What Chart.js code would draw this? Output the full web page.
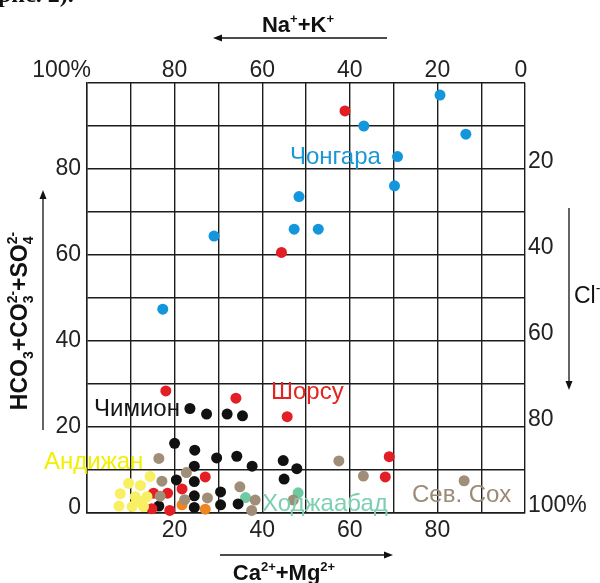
<!DOCTYPE html>
<html>
<head>
<meta charset="utf-8">
<script src="https://cdn.jsdelivr.net/npm/chart.js@4.4.1/dist/chart.umd.min.js"></script>
<style>
  html, body { margin: 0; padding: 0; background: #fff; }
  #wrap { width: 600px; height: 583px; }
</style>
</head>
<body>
<div id="wrap"><canvas id="piper"></canvas></div>
<script>
// Ca2+ + Mg2+ (x, %) and HCO3+CO3+SO4 (y, %) per water group
const chongaraX = [80.6, 63.2, 86.5, 70.9, 70.2, 48.4, 47.3, 52.8, 29.0, 17.3];
const chongaraY = [97.2, 90.0, 88.1, 82.9, 76.1, 73.6, 66.0, 66.0, 64.4, 47.4];

const shorsuX = [58.9, 44.4, 18.0, 34.0, 45.7, 69.0, 68.1, 27.0, 21.7, 18.4, 15.2, 14.8, 18.9];
const shorsuY = [93.5, 60.6, 28.4, 26.7, 22.4, 13.1, 8.4, 8.4, 5.6, 4.6, 4.6, 1.0, 0.6];

const chimionX = [23.5, 27.3, 32.0, 35.5, 20.0, 24.6, 29.6, 34.2, 37.7, 24.5, 44.8, 47.9, 45.0, 20.4, 24.5, 30.5, 24.5, 34.5, 30.5, 24.5, 16.4];
const chimionY = [24.3, 23.0, 23.0, 22.6, 16.2, 14.6, 12.8, 13.2, 10.9, 10.9, 12.2, 10.3, 7.9, 7.7, 7.3, 4.9, 4.0, 2.1, 1.9, 1.3, 1.6];

const sokhX = [16.4, 57.5, 63.1, 86.1, 17.1, 22.7, 34.9, 16.7, 27.5, 22.3, 38.4, 47.1, 37.6];
const sokhY = [12.7, 12.1, 8.6, 7.5, 7.4, 9.4, 6.1, 3.9, 3.5, 3.1, 3.0, 3.0, 0.6];

const khodjaX = [36.2, 48.2];
const khodjaY = [3.6, 4.7];

const orangeX = [21.7, 27.0];
const orangeY = [1.9, 0.9];

const andijanX = [14.4, 9.5, 12.2, 7.6, 11.0, 13.7, 7.3, 10.3, 12.9, 12.2];
const andijanY = [8.5, 6.9, 6.4, 4.5, 3.8, 3.8, 1.6, 1.5, 1.5, 2.6];

// tick labels
const leftTicks = [0, 20, 40, 60, 80];
const bottomTicks = [20, 40, 60, 80];
const topTicks = [100, 80, 60, 40, 20, 0];   // Na+ + K+
const rightTicks = [20, 40, 60, 80, 100];    // Cl-

function pts(xs, ys) {
  return xs.map((x, i) => ({ x: x, y: ys[i] }));
}

function dots(label, xs, ys, color) {
  return {
    label: label,
    data: pts(xs, ys),
    backgroundColor: color,
    borderWidth: 0,
    pointRadius: 5.5,
    pointHoverRadius: 5.5,
    clip: false
  };
}

// text with super/subscripts; parts: [text, kind] kind 0 normal, 1 sup, -1 sub, 2 stacked [sub, sup]
function richWidth(ctx, parts, big, small, weight) {
  let w = 0;
  parts.forEach(p => {
    if (p[1] === 0) { ctx.font = weight + " " + big + "px 'Liberation Sans', Arial"; w += ctx.measureText(p[0]).width; }
    else if (p[1] === 2) {
      ctx.font = weight + " " + small + "px 'Liberation Sans', Arial";
      w += Math.max(ctx.measureText(p[0][0]).width, ctx.measureText(p[0][1]).width);
    } else { ctx.font = weight + " " + small + "px 'Liberation Sans', Arial"; w += ctx.measureText(p[0]).width; }
  });
  return w;
}

function drawRich(ctx, parts, x, y, big, small, weight) {
  // x: left, y: baseline
  let cx = x;
  parts.forEach(p => {
    if (p[1] === 0) {
      ctx.font = weight + " " + big + "px 'Liberation Sans', Arial";
      ctx.fillText(p[0], cx, y);
      cx += ctx.measureText(p[0]).width;
    } else if (p[1] === 2) {
      ctx.font = weight + " " + small + "px 'Liberation Sans', Arial";
      ctx.fillText(p[0][0], cx, y + big * 0.28);
      ctx.fillText(p[0][1], cx, y - big * 0.42);
      cx += Math.max(ctx.measureText(p[0][0]).width, ctx.measureText(p[0][1]).width);
    } else {
      ctx.font = weight + " " + small + "px 'Liberation Sans', Arial";
      ctx.fillText(p[0], cx, p[1] > 0 ? y - big * 0.42 : y + big * 0.28);
      cx += ctx.measureText(p[0]).width;
    }
  });
}

function arrow(ctx, x1, y1, x2, y2) {
  const a = Math.atan2(y2 - y1, x2 - x1);
  ctx.strokeStyle = "#111";
  ctx.fillStyle = "#111";
  ctx.lineWidth = 1.3;
  ctx.beginPath();
  ctx.moveTo(x1, y1);
  ctx.lineTo(x2 - 6 * Math.cos(a), y2 - 6 * Math.sin(a));
  ctx.stroke();
  ctx.beginPath();
  ctx.moveTo(x2, y2);
  ctx.lineTo(x2 - 9 * Math.cos(a) + 3.5 * Math.sin(a), y2 - 9 * Math.sin(a) - 3.5 * Math.cos(a));
  ctx.lineTo(x2 - 9 * Math.cos(a) - 3.5 * Math.sin(a), y2 - 9 * Math.sin(a) + 3.5 * Math.cos(a));
  ctx.closePath();
  ctx.fill();
}

const decor = {
  id: "decor",
  afterDraw(chart) {
    const ctx = chart.ctx;
    const xs = chart.scales.x, ys = chart.scales.y;
    ctx.save();

    // cut caption line from the page above
    ctx.fillStyle = "#111";
    ctx.font = "bold 24px 'Liberation Serif', 'Times New Roman'";
    ctx.textAlign = "left";
    ctx.textBaseline = "alphabetic";
    ctx.fillText("рис. 2).", -2, 2);

    // tick labels
    ctx.fillStyle = "#222";
    ctx.font = "23px 'Liberation Sans', Arial";
    ctx.textBaseline = "middle";

    ctx.textAlign = "right";
    leftTicks.forEach(v => {
      ctx.fillText(String(v), 81, ys.getPixelForValue(v) - (v === 0 ? 5 : 0));
    });

    ctx.textAlign = "center";
    bottomTicks.forEach(v => {
      ctx.fillText(String(v), xs.getPixelForValue(v), 531);
    });

    topTicks.forEach(v => {
      const px = xs.getPixelForValue(100 - v);
      if (v === 100) { ctx.textAlign = "right"; ctx.fillText("100%", px + 4, 71); }
      else { ctx.textAlign = "center"; ctx.fillText(String(v), px - (v === 0 ? 4 : 0), 71); }
    });

    ctx.textAlign = "left";
    rightTicks.forEach(v => {
      ctx.fillText(v === 100 ? "100%" : String(v), xs.right + 3, ys.getPixelForValue(100 - v) - 7);
    });

    // axis titles
    ctx.fillStyle = "#111";
    ctx.textBaseline = "alphabetic";
    const na = [["Na", 0], ["+", 1], ["+K", 0], ["+", 1]];
    let w = richWidth(ctx, na, 22, 13, "bold");
    drawRich(ctx, na, 298 - w / 2, 32, 22, 13, "bold");
    arrow(ctx, 387, 38, 213, 38);

    const ca = [["Ca", 0], ["2+", 1], ["+Mg", 0], ["2+", 1]];
    w = richWidth(ctx, ca, 22, 13, "bold");
    drawRich(ctx, ca, 284 - w / 2, 580, 22, 13, "bold");
    arrow(ctx, 220, 555, 393, 555);

    const an = [["HCO", 0], ["3", -1], ["+CO", 0], [["3", "2-"], 2], ["+SO", 0], [["4", "2-"], 2]];
    w = richWidth(ctx, an, 23, 14, "bold");
    ctx.save();
    ctx.translate(27, 321);
    ctx.rotate(-Math.PI / 2);
    drawRich(ctx, an, -w / 2, 0, 23, 14, "bold");
    ctx.restore();
    arrow(ctx, 43, 430, 43, 190);

    const cl = [["Cl", 0], ["-", 1]];
    drawRich(ctx, cl, 574, 303, 23, 14, "normal");
    arrow(ctx, 569, 208, 569, 390);

    // group labels
    ctx.font = "24px 'Liberation Sans', Arial";
    ctx.textAlign = "left";
    const labels = [
      ["Чонгара", 290, 164, "#1a98d6"],
      ["Шорсу", 271, 399, "#e3231f"],
      ["Чимион", 94, 416, "#141414"],
      ["Андижан", 44, 469, "#f2f000"],
      ["Ходжаабад", 262, 511, "#7ccfb0"],
      ["Сев. Сох", 412, 502, "#9b8b76"]
    ];
    labels.forEach(l => {
      ctx.fillStyle = l[3];
      ctx.fillText(l[0], l[1], l[2]);
    });
    ctx.restore();
  }
};

const gridOpts = {
  color: "#1c1c1c",
  lineWidth: 1.4,
  drawTicks: false
};

new Chart(document.getElementById("piper"), {
  type: "scatter",
  data: {
    datasets: [
      dots("Андижан", andijanX, andijanY, "#f8ef62"),
      dots("Сев. Сох", sokhX, sokhY, "#a08e78"),
      dots("Шорсу", shorsuX, shorsuY, "#e31e24"),
      dots("Чимион", chimionX, chimionY, "#111111"),
      dots("orange", orangeX, orangeY, "#ef8420"),
      dots("Ходжаабад", khodjaX, khodjaY, "#6fcaa3"),
      dots("Чонгара", chongaraX, chongaraY, "#1496dc")
    ]
  },
  options: {
    responsive: true,
    maintainAspectRatio: false,
    animation: false,
    layout: { padding: { left: 87, right: 75, top: 83, bottom: 70 } },
    plugins: {
      legend: { display: false },
      tooltip: { enabled: false }
    },
    scales: {
      x: {
        type: "linear", min: 0, max: 100,
        ticks: { display: false, stepSize: 10 },
        grid: gridOpts,
        border: { display: true, color: "#1c1c1c", width: 1.4 }
      },
      y: {
        type: "linear", min: 0, max: 100,
        ticks: { display: false, stepSize: 10 },
        grid: gridOpts,
        border: { display: true, color: "#1c1c1c", width: 1.4 }
      }
    }
  },
  plugins: [decor]
});
</script>
</body>
</html>
